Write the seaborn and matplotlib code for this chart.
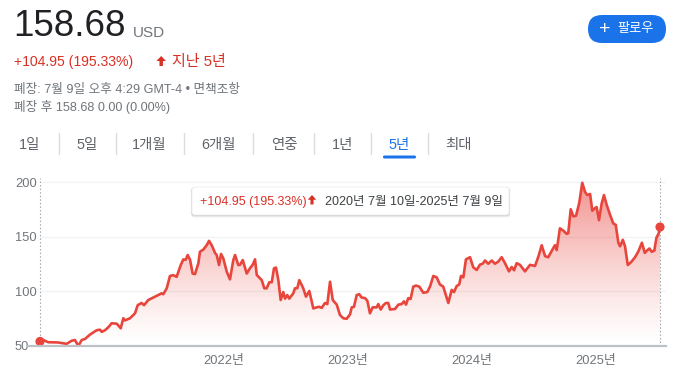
import numpy as np
import pandas as pd
import matplotlib
matplotlib.use("Agg")
import matplotlib.pyplot as plt
import matplotlib.transforms as mtransforms
from matplotlib.patches import FancyBboxPatch, Polygon
from matplotlib.lines import Line2D
import matplotlib.dates as mdates
import seaborn as sns

# ---------------- data ----------------
t_year = [2020.520, 2020.547, 2020.587, 2020.665, 2020.697, 2020.735, 2020.776, 2020.802,
          2020.829, 2020.856, 2020.883, 2020.923, 2020.977, 2021.004, 2021.018, 2021.044,
          2021.071, 2021.098, 2021.139, 2021.171, 2021.192, 2021.205, 2021.246, 2021.286,
          2021.308, 2021.340, 2021.359, 2021.393, 2021.434, 2021.474, 2021.501, 2021.514,
          2021.542, 2021.568, 2021.595, 2021.622, 2021.655, 2021.676, 2021.695, 2021.711,
          2021.730, 2021.751, 2021.770, 2021.797, 2021.810, 2021.837, 2021.864, 2021.883,
          2021.905, 2021.931, 2021.945, 2021.964, 2021.980, 2021.998, 2022.026, 2022.052,
          2022.079, 2022.093, 2022.119, 2022.133, 2022.155, 2022.187, 2022.214, 2022.235,
          2022.254, 2022.268, 2022.308, 2022.329, 2022.348, 2022.369, 2022.389, 2022.407,
          2022.423, 2022.442, 2022.461, 2022.482, 2022.496, 2022.514, 2022.530, 2022.563,
          2022.576, 2022.595, 2022.611, 2022.643, 2022.665, 2022.692, 2022.724, 2022.751,
          2022.772, 2022.792, 2022.818, 2022.837, 2022.859, 2022.881, 2022.913, 2022.939,
          2022.966, 2022.993, 2023.020, 2023.034, 2023.052, 2023.074, 2023.095, 2023.114,
          2023.141, 2023.160, 2023.181, 2023.203, 2023.235, 2023.248, 2023.268, 2023.289,
          2023.310, 2023.329, 2023.343, 2023.383, 2023.410, 2023.437, 2023.455, 2023.472,
          2023.490, 2023.509, 2023.530, 2023.552, 2023.579, 2023.611, 2023.643, 2023.665,
          2023.692, 2023.719, 2023.745, 2023.772, 2023.813, 2023.840, 2023.859, 2023.880,
          2023.901, 2023.915, 2023.934, 2023.955, 2023.988, 2024.014, 2024.042, 2024.068,
          2024.090, 2024.109, 2024.135, 2024.163, 2024.189, 2024.216, 2024.243, 2024.270,
          2024.302, 2024.324, 2024.343, 2024.364, 2024.391, 2024.431, 2024.472, 2024.512,
          2024.539, 2024.566, 2024.593, 2024.619, 2024.655, 2024.673, 2024.687, 2024.713,
          2024.740, 2024.768, 2024.780, 2024.800, 2024.821, 2024.843, 2024.869, 2024.893,
          2024.915, 2024.934, 2024.956, 2024.974, 2024.996, 2025.009, 2025.028, 2025.050,
          2025.068, 2025.090, 2025.117, 2025.143, 2025.163, 2025.184, 2025.198, 2025.220,
          2025.238, 2025.260, 2025.287, 2025.319, 2025.346, 2025.374, 2025.397, 2025.414,
          2025.435, 2025.453, 2025.474, 2025.491, 2025.509, 2025.520]
price = [53.73, 55.0, 53.0, 52.8, 52.2, 51.5, 54.4, 55.0,
         49.5, 55.0, 56.0, 60.0, 64.0, 64.5, 62.5, 64.0,
         66.7, 70.4, 70.0, 65.8, 75.0, 73.0, 75.0, 79.5,
         87.0, 89.0, 87.0, 91.7, 94.0, 96.3, 97.9, 97.0,
         102.5, 113.8, 114.5, 113.0, 123.8, 129.0, 128.6, 133.0,
         128.6, 116.0, 115.5, 125.4, 136.0, 138.0, 142.0, 146.0,
         142.0, 135.0, 133.0, 123.8, 134.0, 130.0, 117.7, 110.7,
         128.4, 133.0, 123.8, 124.0, 128.4, 116.0, 121.0, 124.0,
         129.0, 114.7, 110.0, 102.5, 102.5, 108.0, 108.0, 120.8,
         121.5, 110.0, 91.7, 99.0, 93.0, 96.3, 93.0, 97.9,
         102.5, 102.5, 110.0, 102.5, 94.8, 100.0, 84.0, 85.0,
         85.5, 84.5, 89.0, 88.0, 108.5, 91.7, 87.5, 78.0,
         75.0, 74.5, 78.5, 85.0, 85.5, 96.3, 97.0, 94.0,
         93.5, 91.0, 79.5, 85.0, 85.0, 88.0, 83.0, 87.0,
         89.0, 89.0, 83.0, 83.5, 87.5, 88.0, 90.5, 87.5,
         93.5, 92.7, 104.0, 105.0, 104.0, 98.4, 99.0, 104.0,
         113.8, 112.5, 106.0, 104.0, 89.0, 101.0, 99.0, 104.5,
         106.0, 113.8, 112.5, 129.0, 131.0, 121.7, 119.3, 124.2,
         125.0, 128.0, 125.0, 128.0, 125.0, 127.0, 131.0, 125.5,
         118.0, 122.0, 119.0, 125.5, 124.0, 118.0, 124.0, 123.0,
         131.5, 142.0, 132.0, 131.0, 138.5, 142.0, 137.6, 157.5,
         155.4, 152.4, 153.0, 175.0, 168.5, 169.0, 181.0, 199.3,
         191.0, 188.0, 189.0, 173.7, 176.0, 177.0, 165.0, 180.5,
         188.0, 179.0, 170.0, 162.0, 160.7, 144.3, 141.0, 147.0,
         141.0, 123.8, 126.5, 131.0, 136.5, 144.3, 135.0, 137.0,
         139.0, 136.0, 137.0, 148.8, 152.8, 158.68]
y_ticks = [50, 100, 150, 200]
x_tick_years = [2022, 2023, 2024, 2025]
x_tick_labels = ["2022년", "2023년", "2024년", "2025년"]
tabs = ["1일", "5일", "1개월", "6개월", "연중", "1년", "5년", "최대"]

# ---------------- styling ----------------
W, H = 673, 376
RED = "#e8453c"
TXT_RED = "#d93025"
GRAY = "#70757a"
DARK = "#202124"
BLUE = "#1a73e8"
FONT = ["Liberation Sans", "Noto Sans CJK KR", "DejaVu Sans"]

sns.set_theme(style="white")
plt.rcParams["font.family"] = FONT


def yr2date(y):
    return pd.Timestamp("2020-01-01") + pd.to_timedelta((y - 2020.0) * 365.25, unit="D")


df = pd.DataFrame({"date": [yr2date(t) for t in t_year], "price": price})

fig = plt.figure(figsize=(W / 100, H / 100), dpi=100)
fig.patch.set_facecolor("white")
PX = mtransforms.IdentityTransform()

ax_left, ax_right, ax_top, ax_bot = 28, 666, 178, 345.5
ax = fig.add_axes([ax_left / W, (H - ax_bot) / H, (ax_right - ax_left) / W, (ax_bot - ax_top) / H])

ymin = 50.0
ymax = 200 + (182 - ax_top) * 50 / 54.5
xl = mdates.date2num(yr2date(2020.52 - (40 - ax_left) / 124.0))
xr = mdates.date2num(yr2date(2025.52 + (ax_right - 660) / 124.0))
d0 = mdates.date2num(df["date"].iloc[0])
d1 = mdates.date2num(df["date"].iloc[-1])

# gridlines
for v in [100, 150, 200]:
    ax.hlines(v, d0, xr, color="#f1f3f4", lw=1.0, zorder=0)

# gradient fill under line
poly = ax.fill_between(df["date"], df["price"], ymin, color="none", lw=0)
tt = np.linspace(1, 0, 300) ** 1.25
rgba = np.zeros((300, 1, 4))
rgba[..., 0] = 0.91
rgba[..., 1] = 0.27
rgba[..., 2] = 0.24
rgba[..., 3] = (0.6 * tt).reshape(-1, 1)
im = ax.imshow(rgba, extent=[xl, xr, ymin, ymax], aspect="auto", origin="upper", zorder=1)
im.set_clip_path(poly.get_paths()[0], transform=ax.transData)

# line
sns.lineplot(data=df, x="date", y="price", color=RED, lw=1.9, ax=ax, zorder=3)
ax.scatter([df["date"].iloc[0], df["date"].iloc[-1]], [price[0], price[-1]],
           s=44, color=RED, zorder=5, clip_on=False, edgecolors="none")

# dotted verticals
for d in [d0, d1]:
    ax.axvline(d, color="#9aa0a6", lw=0.8, ls=(0, (1.2, 2)), zorder=2)

ax.set_xlim(xl, xr)
ax.set_ylim(ymin, ymax)
ax.set_xlabel("")
ax.set_ylabel("")
for s in ["top", "right", "left"]:
    ax.spines[s].set_visible(False)
ax.spines["bottom"].set_color("#bdc1c6")
ax.spines["bottom"].set_linewidth(1.6)
ax.spines["bottom"].set_zorder(6)

ax.set_yticks(y_ticks)
ax.set_yticklabels([str(v) for v in y_ticks])
ax.tick_params(axis="y", length=0, pad=9.4, labelsize=9.3, labelcolor=GRAY)
for lab in ax.get_yticklabels():
    lab.set_horizontalalignment("left")
ax.set_xticks([mdates.date2num(yr2date(y)) for y in x_tick_years])
ax.set_xticklabels(x_tick_labels)
ax.tick_params(axis="x", length=4, width=1, color="#bdc1c6", pad=3, labelsize=9.3, labelcolor=GRAY)
for lab in ax.get_yticklabels() + ax.get_xticklabels():
    lab.set_family(FONT)
ax.patch.set_alpha(0)


# ---------------- header ----------------
def T(x, y, s, **kw):
    fig.text(x, H - y, s, transform=PX, **kw)


def up_arrow(cx, top, w, h, color):
    sw = w * 0.36
    hh = h * 0.5
    pts = [(cx, top), (cx + w / 2, top + hh), (cx + sw / 2, top + hh), (cx + sw / 2, top + h),
           (cx - sw / 2, top + h), (cx - sw / 2, top + hh), (cx - w / 2, top + hh)]
    pts = [(x, H - y) for x, y in pts]
    fig.patches.append(Polygon(pts, closed=True, transform=PX, facecolor=color, edgecolor="none",
                               figure=fig))


T(13, 36, "158.68", fontsize=26.5, color=DARK, va="baseline", ha="left")
T(133, 37, "USD", fontsize=11, color=GRAY, va="baseline", ha="left")
T(14, 66, "+104.95 (195.33%)", fontsize=10.1, color=TXT_RED, va="baseline", ha="left")
up_arrow(161.2, 56, 9.5, 10, TXT_RED)
T(172, 66, "지난 5년", fontsize=10.8, color=TXT_RED, va="baseline", ha="left")
T(14, 93, "폐장: 7월 9일 오후 4:29 GMT-4 • 면책조항", fontsize=9.1, color=GRAY, va="baseline", ha="left")
T(14, 111, "폐장 후 158.68 0.00 (0.00%)", fontsize=9.1, color=GRAY, va="baseline", ha="left")

# follow button
fig.patches.append(FancyBboxPatch((588, H - 43), 78, 28, boxstyle="round,pad=0,rounding_size=14",
                                  transform=PX, facecolor=BLUE, edgecolor="none", figure=fig))
T(605, 29, "+", fontsize=14, color="white", va="center", ha="center", fontweight="light")
T(617, 29, "팔로우", fontsize=9.5, color="white", va="center", ha="left")

# tabs
tab_cx = [29.7, 86.7, 149, 218, 284, 342.5, 399, 458]
for lab, cx in zip(tabs, tab_cx):
    col = BLUE if lab == "5년" else "#5f6368"
    T(cx, 149, lab, fontsize=10.4, color=col, va="baseline", ha="center")
for sx in [58.7, 115.7, 184.3, 253.3, 314.3, 371.3, 428.3]:
    fig.lines.append(Line2D([sx, sx], [H - 133, H - 154], transform=PX, color="#dadce0", lw=1, figure=fig))
fig.patches.append(FancyBboxPatch((383, H - 158.5), 33, 3, boxstyle="round,pad=0,rounding_size=1.5",
                                  transform=PX, facecolor=BLUE, edgecolor="none", figure=fig))

# tooltip
for off, a in [(2.5, 0.05), (1.5, 0.08), (0.7, 0.1)]:
    fig.patches.append(FancyBboxPatch((192 - off * 0.5, H - 215 - off), 317 + off, 28 + off * 0.8,
                                      boxstyle="round,pad=0,rounding_size=3", transform=PX,
                                      facecolor=(0, 0, 0, a), edgecolor="none", figure=fig))
fig.patches.append(FancyBboxPatch((192, H - 215), 317, 28, boxstyle="round,pad=0,rounding_size=3",
                                  transform=PX, facecolor="white", edgecolor="#eeeeee", lw=0.6, figure=fig))
T(200, 205, "+104.95 (195.33%)", fontsize=9, color=TXT_RED, va="baseline", ha="left")
up_arrow(312, 195, 8.5, 9.5, TXT_RED)
T(325, 205, "2020년 7월 10일-2025년 7월 9일", fontsize=9, color="#3c4043", va="baseline", ha="left")

fig.savefig("out.png", dpi=100, facecolor="white")
